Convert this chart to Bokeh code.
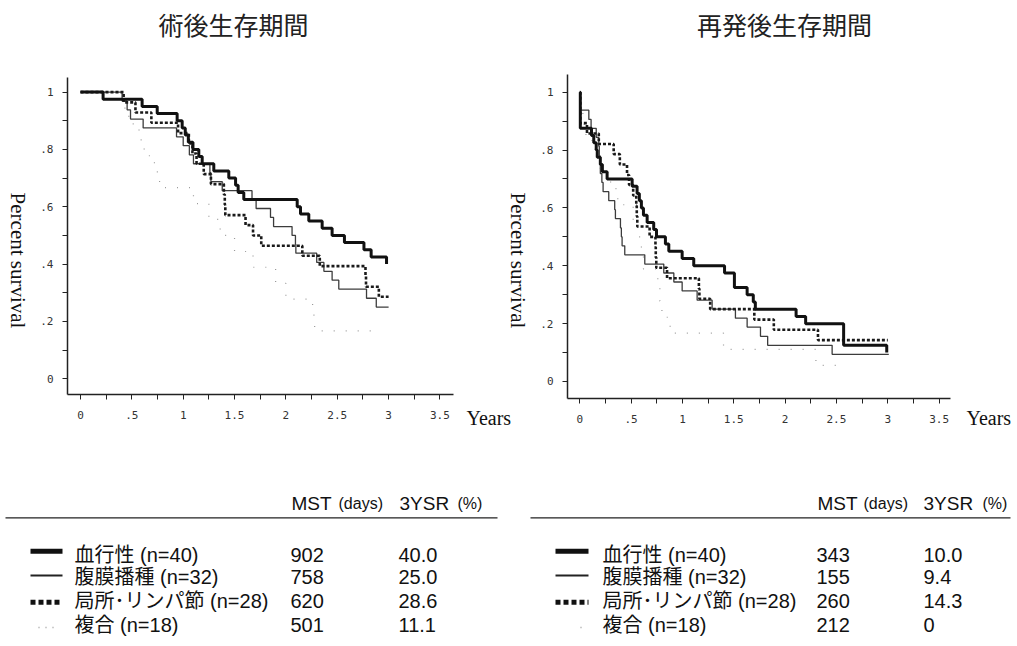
import math
from bokeh.plotting import figure
from bokeh.layouts import row, column
from bokeh.models import Range1d, FixedTicker
from bokeh.core.properties import value
from bokeh.embed import file_html
from bokeh.resources import INLINE

# ---------------- data ----------------
titles = ["術後生存期間", "再発後生存期間"]
group_names = ["血行性 (n=40)", "腹膜播種 (n=32)", "局所･リンパ節 (n=28)", "複合 (n=18)"]
y_title = "Percent survival"
x_title = "Years"

# Left panel: survival after surgery (years) -- drop times and survival after each drop
post_hema_t = [0.22, 0.60, 0.747, 0.941, 0.99, 1.02, 1.05, 1.095, 1.152, 1.185, 1.298, 1.444,
               1.51, 1.535, 1.59, 2.11, 2.142, 2.223, 2.353, 2.45, 2.57, 2.76, 2.83, 2.98]
post_hema_s = [.975, .95, .925, .90, .875, .85, .825, .80, .775, .75, .725, .70,
               .675, .65, .625, .60, .575, .55, .525, .50, .475, .45, .425, .40]
post_hema_end = 2.98

post_peri_t = [0.405, 0.454, 0.487, 0.61, 0.935, 1.0, 1.06, 1.10, 1.26, 1.27, 1.38, 1.67,
               1.71, 1.85, 1.88, 2.06, 2.093, 2.097, 2.30, 2.37, 2.45, 2.515, 2.785, 2.88]
post_peri_s = [.969, .938, .906, .875, .844, .813, .781, .75, .719, .688, .656, .625,
               .594, .563, .531, .50, .469, .438, .406, .375, .344, .313, .281, .25]
post_peri_end = 3.0

post_local_t = [0.42, 0.535, 0.69, 0.95, 1.055, 1.09, 1.13, 1.2, 1.27, 1.396, 1.405, 1.41,
                1.607, 1.68, 1.76, 2.16, 2.33, 2.775, 2.78, 2.905]
post_local_s = [.964, .929, .893, .857, .821, .786, .75, .714, .679, .643, .607, .571,
                .536, .50, .464, .429, .393, .357, .321, .286]
post_local_end = 3.0

post_comb_t = [0.40, 0.47, 0.57, 0.62, 0.72, 0.77, 1.10, 1.25, 1.36, 1.50, 1.68, 1.90,
               2.0, 2.26, 2.28]
post_comb_s = [.944, .889, .833, .778, .722, .667, .611, .556, .50, .444, .389, .333,
               .278, .222, .167]
post_comb_end = 2.85

# Right panel: survival after recurrence (years)
rec_hema_t = [0.005, 0.114, 0.136, 0.16, 0.17, 0.20, 0.22, 0.266, 0.51, 0.558, 0.58, 0.60,
              0.62, 0.656, 0.72, 0.747, 0.834, 0.867, 0.997, 1.11, 1.41, 1.506, 1.63, 1.69,
              1.71, 2.107, 2.2, 2.57, 2.99]
rec_hema_s = [.875, .85, .825, .80, .775, .75, .725, .70, .675, .65, .625, .60,
              .575, .55, .525, .50, .475, .45, .425, .40, .375, .325, .30, .275,
              .25, .225, .20, .125, .10]
rec_hema_end = 2.99

rec_peri_t = [0.005, 0.088, 0.11, 0.16, 0.185, 0.19, 0.195, 0.20, 0.215, 0.227, 0.282, 0.34,
              0.347, 0.396, 0.405, 0.412, 0.438, 0.633, 0.818, 0.916, 0.997, 1.143, 1.289,
              1.516, 1.63, 1.76, 1.83, 2.458]
rec_peri_s = [.938, .906, .875, .844, .813, .781, .75, .719, .688, .656, .625, .594,
              .563, .531, .50, .469, .438, .406, .375, .344, .313, .281, .25,
              .219, .188, .156, .125, .094]
rec_peri_end = 3.01

rec_local_t = [0.005, 0.07, 0.185, 0.33, 0.39, 0.46, 0.48, 0.52, 0.55, 0.555, 0.56, 0.68,
               0.737, 0.74, 0.745, 0.85, 1.16, 1.165, 1.27, 1.70, 1.89, 2.32]
rec_local_s = [.893, .857, .821, .786, .75, .714, .679, .643, .607, .571, .536, .50,
               .464, .429, .393, .357, .321, .286, .25, .214, .179, .143]
rec_local_end = 3.0

rec_comb_t = [0.01, 0.03, 0.06, 0.15, 0.2, 0.3, 0.37, 0.52, 0.56, 0.60, 0.62, 0.76,
              0.78, 0.80, 0.88, 1.4, 2.3]
rec_comb_s = [.944, .889, .833, .778, .722, .667, .611, .556, .50, .444, .389, .333,
              .278, .222, .167, .111, .056]
rec_comb_end = 2.5

# Table values
mst_post = ["902", "758", "620", "501"]
ysr_post = ["40.0", "25.0", "28.6", "11.1"]
mst_rec = ["343", "155", "260", "212"]
ysr_rec = ["10.0", "9.4", "14.3", "0"]

# Axis ticks
x_major = [0, 0.5, 1, 1.5, 2, 2.5, 3, 3.5]
x_labels = ["0", ".5", "1", "1.5", "2", "2.5", "3", "3.5"]
x_minor = [0.25, 0.75, 1.25, 1.75, 2.25, 2.75, 3.25]
y_major = [0, 0.2, 0.4, 0.6, 0.8, 1]
y_labels = ["0", ".2", ".4", ".6", ".8", "1"]
y_minor = [0.1, 0.3, 0.5, 0.7, 0.9]

# ---------------- styles ----------------
CURVE_STYLES = [
    dict(line_color="#111111", line_width=3.0, line_dash="solid"),
    dict(line_color="#3c3c3c", line_width=1.3, line_dash="solid"),
    dict(line_color="#1a1a1a", line_width=2.6, line_dash="3 2"),
    dict(line_color="#9a9a9a", line_width=1.2, line_dash="1 11"),
]
SAMPLE_STYLES = [
    dict(line_color="#111111", line_width=5, line_dash="solid"),
    dict(line_color="#222222", line_width=1.8, line_dash="solid"),
    dict(line_color="#111111", line_width=5, line_dash="5 3"),
    dict(line_color="#9a9a9a", line_width=1.3, line_dash="1 6"),
]
TEXT_FONT = "Liberation Sans, Noto Sans CJK JP"
H_TITLE = 60
H_PLOT = 398
H_TAB = 180


def km(times, levels, end):
    xs = [0.0] + list(times)
    ys = [1.0] + list(levels)
    if end > xs[-1]:
        xs.append(end)
        ys.append(ys[-1])
    return xs, ys


def no_align(p):
    if "frame_align" in p.properties():
        p.frame_align = False


def blank(width, height, xr, yr):
    p = figure(width=width, height=height, x_range=Range1d(*xr), y_range=Range1d(*yr),
               output_backend="svg", toolbar_location=None, x_axis_type=None, y_axis_type=None,
               min_border_left=0, min_border_right=0, min_border_top=0, min_border_bottom=0)
    p.outline_line_color = None
    p.grid.visible = False
    p.background_fill_color = "white"
    p.border_fill_color = "white"
    no_align(p)
    return p


def make_plot(width, border_l, border_r, border_t, border_b, xr, yr, curves):
    p = figure(width=width, height=H_PLOT, x_range=Range1d(*xr), y_range=Range1d(*yr),
               output_backend="svg", toolbar_location=None,
               min_border_left=border_l, min_border_right=border_r,
               min_border_top=border_t, min_border_bottom=border_b)
    p.outline_line_color = None
    p.xgrid.visible = False
    p.ygrid.visible = False
    p.background_fill_color = "white"
    p.border_fill_color = "white"
    no_align(p)

    for ax in (p.xaxis[0], p.yaxis[0]):
        ax.axis_line_width = 1.5
        ax.axis_line_color = "#222222"
        ax.major_tick_line_color = "#222222"
        ax.minor_tick_line_color = "#222222"
        ax.major_tick_out = 5
        ax.major_tick_in = 0
        ax.minor_tick_out = 5
        ax.minor_tick_in = 0
        ax.major_label_text_font = "DejaVu Sans Mono"
        ax.major_label_text_font_size = "11px"
        ax.major_label_text_color = "#333333"
    p.xaxis.major_label_standoff = 11
    p.yaxis.major_label_standoff = 9

    p.xaxis.ticker = FixedTicker(ticks=x_major, minor_ticks=x_minor)
    p.xaxis.major_label_overrides = dict(zip(x_major, x_labels))
    p.yaxis.ticker = FixedTicker(ticks=y_major, minor_ticks=y_minor)
    p.yaxis.major_label_overrides = dict(zip(y_major, y_labels))

    for i in [3, 1, 2, 0]:
        t, s, e = curves[i]
        xs, ys = km(t, s, e)
        p.step(xs, ys, mode="after", **CURVE_STYLES[i])
    return p


def make_title(width, x0, x1, cx, text):
    p = blank(width, H_TITLE, (x0, x1), (H_TITLE, 0))
    p.text(x=[cx], y=[23], text=[text], text_font=value("Noto Sans CJK JP"),
           text_font_size=value("25px"), text_align="center", text_baseline="middle",
           text_color="#222222")
    return p


def make_side(width, x0, x1, years_x=None, ylab_x=None):
    # narrow strip beside a plot holding the axis titles
    p = blank(width, H_PLOT, (x0, x1), (H_TITLE + H_PLOT, H_TITLE))
    if years_x is not None:
        p.text(x=[years_x], y=[417], text=[x_title], text_font=value("Liberation Serif"),
               text_font_size=value("20px"), text_align="left", text_baseline="middle",
               text_color="#111111")
    if ylab_x is not None:
        p.text(x=[ylab_x], y=[260], text=[y_title], text_font=value("Liberation Serif"),
               text_font_size=value("21px"), text_align="center", text_baseline="middle",
               angle=-math.pi / 2, text_color="#111111")
    return p


def make_table(width, x0, x1, rule, sample_x, name_x, hdr, mst_x, ysr_x, mst, ysr):
    top = H_TITLE + H_PLOT
    p = blank(width, H_TAB, (x0, x1), (top + H_TAB, top))
    p.segment(x0=[rule[0]], y0=[517.3], x1=[rule[1]], y1=[517.3], line_width=1.3, line_color="#222222")
    p.text(x=[hdr[0], hdr[2]], y=[502.5, 502.5], text=["MST", "3YSR"], text_font=value(TEXT_FONT),
           text_font_size=value("19px"), text_baseline="middle", text_align="left", text_color="#111111")
    p.text(x=[hdr[1], hdr[3]], y=[503, 503], text=["(days)", "(%)"], text_font=value(TEXT_FONT),
           text_font_size=value("16px"), text_baseline="middle", text_align="left", text_color="#111111")

    mid = [554.0, 576.5, 600.5, 624.5]
    line_y = [550.7, 575.0, 601.7, 627.0]
    for i in range(4):
        sx = sample_x[i]
        p.line([sx[0], sx[1]], [line_y[i], line_y[i]], **SAMPLE_STYLES[i])
    for xs_, txt in ((name_x, group_names), (mst_x, mst), (ysr_x, ysr)):
        p.text(x=[xs_] * 4, y=mid, text=txt, text_font=value(TEXT_FONT),
               text_font_size=value("20px"), text_baseline="middle", text_align="left",
               text_color="#111111")
    return p


left_curves = [(post_hema_t, post_hema_s, post_hema_end),
               (post_peri_t, post_peri_s, post_peri_end),
               (post_local_t, post_local_s, post_local_end),
               (post_comb_t, post_comb_s, post_comb_end)]
right_curves = [(rec_hema_t, rec_hema_s, rec_hema_end),
                (rec_peri_t, rec_peri_s, rec_peri_end),
                (rec_local_t, rec_local_s, rec_local_end),
                (rec_comb_t, rec_comb_s, rec_comb_end)]

# page x: left block 0..510, right block 510..1017
tiL = make_title(510, 0, 510, 233, titles[0])
tiR = make_title(507, 510, 1017, 784, titles[1])

sL = make_side(36, 0, 36, ylab_x=17)
pL = make_plot(420, 31, 3, 77 - H_TITLE, H_TITLE + H_PLOT - 394,
               (-0.1266, 3.632), (-0.0548, 1.0509), left_curves)
sM = make_side(80, 456, 536, years_x=466, ylab_x=517)
pR = make_plot(417, 31, 3, 74 - H_TITLE, H_TITLE + H_PLOT - 398,
               (-0.1198, 3.611), (-0.0588, 1.0612), right_curves)
sR = make_side(64, 953, 1017, years_x=966)

tL = make_table(510, 0, 510, (5, 497),
                [(30, 62), (30, 62), (30, 62), (38, 55)], 74,
                (291, 338, 399, 457), 290, 398, mst_post, ysr_post)
tR = make_table(507, 510, 1017, (530, 1010),
                [(555, 588), (555, 588), (555, 588), (580, 583)], 602,
                (817, 863, 923, 982), 816, 923, mst_rec, ysr_rec)

layout = column(row(tiL, tiR), row(sL, pL, sM, pR, sR), row(tL, tR))

with open("out.html", "w") as f:
    f.write(file_html(layout, INLINE))
